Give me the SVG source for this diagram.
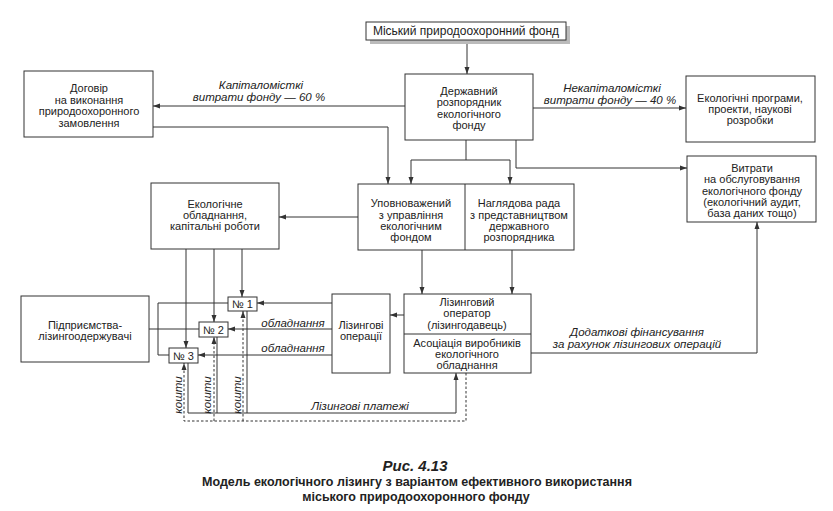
<svg xmlns="http://www.w3.org/2000/svg" width="833" height="511" viewBox="0 0 833 511">
<style>
.box{fill:#fff;stroke:#333;stroke-width:1}
.t{font-family:"Liberation Sans",Arial,sans-serif;font-size:11px;fill:#222;text-anchor:middle}
.i{font-style:italic;font-size:11.5px}
.ln{fill:none;stroke:#333;stroke-width:1}
.d{stroke-dasharray:2.5,2}
.cap{font-weight:bold;font-size:12.5px}
</style>
<defs>
<marker id="a" markerUnits="userSpaceOnUse" markerWidth="8" markerHeight="6" refX="7" refY="3" orient="auto">
<path d="M0,0.5 L7,3 L0,5.5 z" fill="#333"/>
</marker>
</defs>
<rect width="833" height="511" fill="#fff"/>

<g id="connectors">
<path class="ln" d="M467,40 V74" marker-end="url(#a)"/>
<path class="ln" d="M533,108 H686" marker-end="url(#a)"/>
<path class="ln" d="M405,106 H153" marker-end="url(#a)"/>
<path class="ln" d="M153,127 H388 V184" marker-end="url(#a)"/>
<path class="ln" d="M466,140 V160 M411,160 H510"/>
<path class="ln" d="M411,160 V184" marker-end="url(#a)"/>
<path class="ln" d="M510,160 V184" marker-end="url(#a)"/>
<path class="ln" d="M516,140 V168 H687" marker-end="url(#a)"/>
<path class="ln" d="M358,217 H279" marker-end="url(#a)"/>
<path class="ln" d="M422,250 V294" marker-end="url(#a)"/>
<path class="ln" d="M512,250 V294" marker-end="url(#a)"/>
<path class="ln" d="M404,315 H390" marker-end="url(#a)"/>
<path class="ln" d="M332,303 H257" marker-end="url(#a)"/>
<path class="ln" d="M332,329 H228" marker-end="url(#a)"/>
<path class="ln" d="M332,355 H198" marker-end="url(#a)"/>
<path class="ln" d="M186,249 V348" marker-end="url(#a)"/>
<path class="ln" d="M214,249 V322" marker-end="url(#a)"/>
<path class="ln" d="M242,249 V297" marker-end="url(#a)"/>
<path class="ln" d="M228,303 H158 V355 H169 M199,329 H149"/>
<path class="ln" d="M188,363 V413 H456 V373" marker-end="url(#a)"/>
<path class="ln" d="M217,337 V413 M247,311 V413"/>
<path class="ln d" d="M466,373 V421 H184 V363" marker-end="url(#a)"/>
<path class="ln d" d="M214,421 V337" marker-end="url(#a)"/>
<path class="ln d" d="M243,421 V311" marker-end="url(#a)"/>
<path class="ln" d="M531,353 H757 V222" marker-end="url(#a)"/>
</g>

<g id="labels">
<text class="t i" x="261" y="89">Капіталомісткі</text>
<text class="t i" x="259" y="101">витрати фонду — 60 %</text>
<text class="t i" x="612" y="92">Некапіталомісткі</text>
<text class="t i" x="610" y="104">витрати фонду — 40 %</text>
<text class="t i" x="293" y="327">обладнання</text>
<text class="t i" x="293" y="352">обладнання</text>
<text class="t i" x="637" y="336">Додаткові фінансування</text>
<text class="t i" x="637" y="348">за рахунок лізингових операцій</text>
<text class="t i" x="360" y="410">Лізингові платежі</text>
<text class="t i" transform="translate(182,395) rotate(-90)">кошти</text>
<text class="t i" transform="translate(211,395) rotate(-90)">кошти</text>
<text class="t i" transform="translate(241,395) rotate(-90)">кошти</text>
</g>

<g id="fund">
<rect x="370" y="26" width="200" height="18" fill="#bbb"/>
<rect class="box" x="366" y="22" width="200" height="18"/>
<text class="t" x="466" y="35" style="font-size:12px">Міський природоохоронний фонд</text>
</g>

<g id="dogovir">
<rect class="box" x="24" y="71" width="129" height="66"/>
<text class="t" x="89" y="92">Договір</text>
<text class="t" x="89" y="103.5">на виконання</text>
<text class="t" x="89" y="115">природоохоронного</text>
<text class="t" x="89" y="126.5">замовлення</text>
</g>

<g id="derzh">
<rect class="box" x="405" y="74" width="128" height="66"/>
<text class="t" x="469" y="95">Державний</text>
<text class="t" x="469" y="106">розпорядник</text>
<text class="t" x="469" y="117.5">екологічного</text>
<text class="t" x="469" y="129">фонду</text>
</g>

<g id="programs">
<rect class="box" x="686" y="76" width="129" height="66"/>
<text class="t" x="750" y="102">Екологічні програми,</text>
<text class="t" x="750" y="113">проекти, наукові</text>
<text class="t" x="750" y="124">розробки</text>
</g>

<g id="vytraty">
<rect class="box" x="687" y="156" width="129" height="66"/>
<text class="t" x="752" y="172">Витрати</text>
<text class="t" x="752" y="183">на обслуговування</text>
<text class="t" x="752" y="195">екологічного фонду</text>
<text class="t" x="752" y="206">(екологічний аудит,</text>
<text class="t" x="752" y="217">база даних тощо)</text>
</g>

<g id="upovn">
<rect class="box" x="358" y="184" width="216" height="66"/>
<line class="ln" x1="465" y1="184" x2="465" y2="250"/>
<text class="t" x="411" y="207">Уповноважений</text>
<text class="t" x="411" y="219">з управління</text>
<text class="t" x="411" y="230">екологічним</text>
<text class="t" x="411" y="241">фондом</text>
<text class="t" x="519" y="207">Наглядова рада</text>
<text class="t" x="519" y="219">з представництвом</text>
<text class="t" x="519" y="230">державного</text>
<text class="t" x="519" y="241">розпорядника</text>
</g>

<g id="obladn">
<rect class="box" x="151" y="183" width="128" height="66"/>
<text class="t" x="215" y="208">Екологічне</text>
<text class="t" x="215" y="219">обладнання,</text>
<text class="t" x="215" y="230">капітальні роботи</text>
</g>

<g id="operator">
<rect class="box" x="404" y="294" width="127" height="79"/>
<line class="ln" x1="404" y1="334" x2="531" y2="334"/>
<text class="t" x="467" y="306">Лізинговий</text>
<text class="t" x="467" y="317">оператор</text>
<text class="t" x="467" y="329">(лізингодавець)</text>
<text class="t" x="467" y="347">Асоціація виробників</text>
<text class="t" x="467" y="358">екологічного</text>
<text class="t" x="467" y="369">обладнання</text>
</g>

<g id="operacii">
<rect class="box" x="332" y="294" width="58" height="79"/>
<text class="t" x="361" y="329">Лізингові</text>
<text class="t" x="361" y="340">операції</text>
</g>

<g id="pidpr">
<rect class="box" x="21" y="296" width="128" height="66"/>
<text class="t" x="85" y="329">Підприємства-</text>
<text class="t" x="85" y="340">лізингоодержувачі</text>
</g>

<g id="n1">
<rect class="box" x="228" y="297" width="29" height="14"/>
<text class="t" x="242.5" y="308">№ 1</text>
</g>
<g id="n2">
<rect class="box" x="199" y="322" width="29" height="15"/>
<text class="t" x="213.5" y="333.5">№ 2</text>
</g>
<g id="n3">
<rect class="box" x="169" y="348" width="29" height="15"/>
<text class="t" x="183.5" y="359.5">№ 3</text>
</g>

<g id="caption">
<text class="t cap" x="415" y="471" style="font-size:15px;font-style:italic">Рис. 4.13</text>
<text class="t cap" x="417" y="486">Модель екологічного лізингу з варіантом ефективного використання</text>
<text class="t cap" x="416" y="501">міського природоохоронного фонду</text>
</g>
</svg>
